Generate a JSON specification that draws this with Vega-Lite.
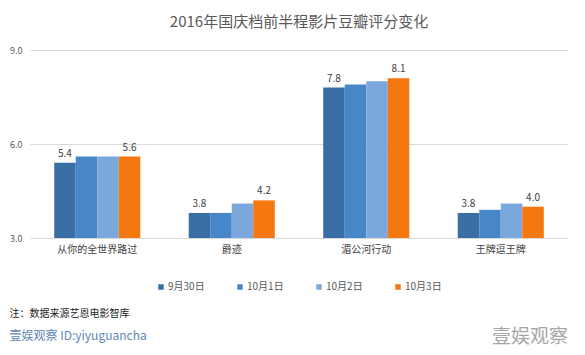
{
  "$schema": "https://vega.github.io/schema/vega-lite/v6.json",
  "background": "white",
  "padding": {"left": 9, "top": 15, "right": 12, "bottom": 4},
  "config": {
    "font": "Noto Sans CJK SC",
    "view": {"stroke": null},
    "concat": {"spacing": 0},
    "legend": {"layout": {"bottom": {"anchor": "middle"}}}
  },
  "title": {
    "text": "壹娱观察",
    "orient": "bottom",
    "anchor": "end",
    "fontSize": 19,
    "fontWeight": "normal",
    "color": "#a6a6a6",
    "offset": -14
  },
  "resolve": {"legend": {"color": "independent"}},
  "datasets": {
    "scores": [
      {"movie": "从你的全世界路过", "date": "9月30日", "score": 5.4},
      {"movie": "从你的全世界路过", "date": "10月1日", "score": 5.6},
      {"movie": "从你的全世界路过", "date": "10月2日", "score": 5.6},
      {"movie": "从你的全世界路过", "date": "10月3日", "score": 5.6},
      {"movie": "爵迹", "date": "9月30日", "score": 3.8},
      {"movie": "爵迹", "date": "10月1日", "score": 3.8},
      {"movie": "爵迹", "date": "10月2日", "score": 4.1},
      {"movie": "爵迹", "date": "10月3日", "score": 4.2},
      {"movie": "湄公河行动", "date": "9月30日", "score": 7.8},
      {"movie": "湄公河行动", "date": "10月1日", "score": 7.9},
      {"movie": "湄公河行动", "date": "10月2日", "score": 8.0},
      {"movie": "湄公河行动", "date": "10月3日", "score": 8.1},
      {"movie": "王牌逗王牌", "date": "9月30日", "score": 3.8},
      {"movie": "王牌逗王牌", "date": "10月1日", "score": 3.9},
      {"movie": "王牌逗王牌", "date": "10月2日", "score": 4.1},
      {"movie": "王牌逗王牌", "date": "10月3日", "score": 4.0}
    ]
  },
  "vconcat": [
    {
      "title": {
        "text": "注：数据来源艺恩电影智库",
        "subtitle": "壹娱观察   ID:yiyuguancha",
        "orient": "bottom",
        "anchor": "start",
        "fontSize": 10,
        "fontWeight": "normal",
        "color": "#222222",
        "subtitleFontSize": 12,
        "subtitleColor": "#5d87b3",
        "subtitlePadding": 12,
        "offset": 17
      },
      "resolve": {"legend": {"color": "independent"}},
      "vconcat": [
        {
          "title": {
            "text": "2016年国庆档前半程影片豆瓣评分变化",
            "fontSize": 15,
            "fontWeight": "normal",
            "color": "#595959",
            "offset": 16
          },
          "width": 538,
          "height": 188,
          "data": {"name": "scores"},
          "encoding": {
            "x": {
              "field": "movie",
              "type": "nominal",
              "sort": ["从你的全世界路过", "爵迹", "湄公河行动", "王牌逗王牌"],
              "scale": {"paddingInner": 0.36, "paddingOuter": 0.18},
              "axis": {
                "title": null,
                "labelAngle": 0,
                "domain": false,
                "ticks": false,
                "labelPadding": 6,
                "labelFontSize": 10,
                "labelColor": "#404040"
              }
            },
            "xOffset": {
              "field": "date",
              "type": "nominal",
              "sort": ["9月30日", "10月1日", "10月2日", "10月3日"]
            }
          },
          "layer": [
            {
              "mark": {"type": "bar"},
              "encoding": {
                "y": {
                  "field": "score",
                  "type": "quantitative",
                  "scale": {"domain": [3, 9], "zero": false},
                  "axis": {
                    "title": null,
                    "values": [3, 6, 9],
                    "format": ".1f",
                    "domain": false,
                    "ticks": false,
                    "gridColor": "#d9d9d9",
                    "labelFontSize": 9,
                    "labelColor": "#595959",
                    "labelPadding": 8
                  }
                },
                "y2": {"datum": 3},
                "color": {
                  "field": "date",
                  "type": "nominal",
                  "sort": ["9月30日", "10月1日", "10月2日", "10月3日"],
                  "scale": {"range": ["#3a6fa5", "#4787c8", "#7aa8dc", "#f5770f"]},
                  "legend": {
                    "title": null,
                    "orient": "bottom",
                    "direction": "horizontal",
                    "symbolType": "square",
                    "symbolSize": 30,
                    "labelFontSize": 10,
                    "labelColor": "#595959",
                    "columnPadding": 30,
                    "labelOffset": 2,
                    "offset": 28
                  }
                }
              }
            },
            {
              "transform": [{"filter": "datum.date == '9月30日' || datum.date == '10月3日'"}],
              "mark": {"type": "text", "dy": -9, "fontSize": 10, "color": "#404040"},
              "encoding": {
                "y": {"field": "score", "type": "quantitative"},
                "text": {"field": "score", "type": "quantitative", "format": ".1f"}
              }
            }
          ]
        }
      ]
    }
  ]
}
